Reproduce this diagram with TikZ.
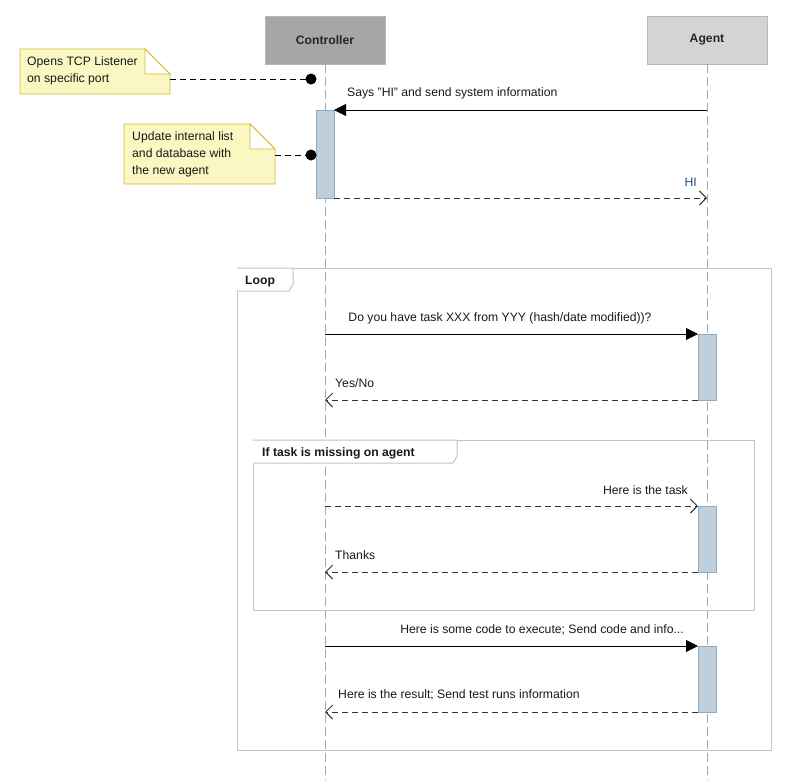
\documentclass[tikz,border=0pt]{standalone}
\usepackage{fontspec}
\setmainfont{Liberation Sans}
\usetikzlibrary{arrows.meta}
\definecolor{notefill}{HTML}{FBF7C3}
\definecolor{notedraw}{HTML}{D4B72E}
\definecolor{actfill}{HTML}{BFD0DC}
\definecolor{actdraw}{HTML}{8DAAC3}
\definecolor{lifegray}{HTML}{A8A8A8}
\definecolor{framegray}{HTML}{C4C4C4}
\definecolor{hiblue}{HTML}{1F4A8C}
\tikzset{
  x=1pt, y=-1pt,
  txt/.style={font=\fontsize{12.2}{17}\selectfont, inner sep=0pt, text=black!90},
  boldtxt/.style={txt, font=\fontsize{12.2}{17}\selectfont\bfseries},
  head/.style={draw=black!28, minimum width=120pt, minimum height=48pt, font=\fontsize{12.2}{17}\selectfont\bfseries, text=black!85},
  life/.style={draw=lifegray, dash pattern=on 9pt off 4pt, line width=0.9pt},
  act/.style={draw=actdraw, fill=actfill, line width=0.8pt},
  sync/.style={draw=black, line width=0.9pt, -{Triangle[length=12pt,width=12pt]}},
  reply/.style={draw=black!80, line width=0.9pt, dash pattern=on 6pt off 4pt, -{Straight Barb[length=7pt,width=14pt,line width=1pt]}},
  notelink/.style={draw=black, line width=1pt, dash pattern=on 6pt off 4pt},
  dot/.style={circle, fill=black, inner sep=0pt, minimum size=11pt},
  notebox/.style={draw=notedraw, fill=notefill, line width=0.9pt},
  frame/.style={draw=framegray, line width=1pt},
}
\begin{document}
\begin{tikzpicture}
\useasboundingbox (0,0) rectangle (800,780);
% heads
\node[head, fill=black!35] (ctrl) at (325,40) {Controller};
\node[head, fill=black!17] (agent) at (707,40) {Agent};
% lifelines
\coordinate (cend) at (325,780);
\coordinate (aend) at (707,780);
\draw[life] (ctrl.south) -- (cend);
\draw[life] (agent.south) -- (aend);

% frames
\draw[frame] (237,268) rectangle (771,750);
\draw[frame, fill=white] (237,268) -- (293,268) -- (293,284) -- (289,291) -- (237,291);
\node[boldtxt, anchor=west] (looplbl) at (245,282) {Loop};
\draw[frame] (253,440) rectangle (754,610);
\draw[frame, fill=white] (253,440) -- (457,440) -- (457,456) -- (453,463) -- (253,463);
\node[boldtxt, anchor=west] (iflbl) at (262,453) {If task is missing on agent};

% note 1
\draw[notebox] (20,49) -- (145,49) -- (170,74) -- (170,94) -- (20,94) -- cycle;
\draw[notedraw, line width=0.9pt, fill=white] (145,49) -- (145,74) -- (170,74) -- cycle;
\node[txt, anchor=north west, align=left] (note1) at (27,56) {Opens TCP Listener\\on specific port};
\coordinate (n1r) at (170,79);
\node[dot] (dot1) at (311,79) {};
\draw[notelink] (n1r) -- (dot1.center);

% activation controller
\draw[act] (316,110) rectangle (334,198);
\coordinate (a0top) at (334,110);
\coordinate (a0bot) at (334,198);
\coordinate (agmsg1) at (707,110);
\draw[sync] (agmsg1) -- (a0top);
\node[txt, anchor=west] (m1) at (347,93) {Says {\char34}HI{\char34} and send system information};

% note 2
\draw[notebox] (124,124) -- (250,124) -- (275,149) -- (275,184) -- (124,184) -- cycle;
\draw[notedraw, line width=0.9pt, fill=white] (250,124) -- (250,149) -- (275,149) -- cycle;
\node[txt, anchor=north west, align=left] (note2) at (132,131) {Update internal list\\and database with\\the new agent};
\coordinate (n2r) at (275,155);
\node[dot] (dot2) at (311,155) {};
\draw[notelink] (n2r) -- (dot2.center);

% HI
\coordinate (aghi) at (707,198);
\draw[reply] (a0bot) -- (aghi);
\node[txt, text=hiblue, anchor=east] (hi) at (697,182) {HI};

% loop messages
\draw[act] (698,334) rectangle (716,400);
\coordinate (c1) at (325,334);
\coordinate (a1t) at (698,334);
\draw[sync] (c1) -- (a1t);
\node[txt] (m2) at (500,318) {Do you have task XXX from YYY (hash/date modified))?};
\coordinate (a1b) at (698,400);
\coordinate (c2) at (325,400);
\draw[reply] (a1b) -- (c2);
\node[txt, anchor=west] (m3) at (335,383) {Yes/No};

% inner frame messages
\draw[act] (698,506) rectangle (716,572);
\coordinate (c3) at (325,506);
\coordinate (a2t) at (698,506);
\draw[reply] (c3) -- (a2t);
\node[txt, anchor=east] (m4) at (688,490) {Here is the task};
\coordinate (a2b) at (698,572);
\coordinate (c4) at (325,572);
\draw[reply] (a2b) -- (c4);
\node[txt, anchor=west] (m5) at (335,555) {Thanks};

% final
\draw[act] (698,646) rectangle (716,712);
\coordinate (c5) at (325,646);
\coordinate (a3t) at (698,646);
\draw[sync] (c5) -- (a3t);
\node[txt, anchor=east] (m6) at (684,630) {Here is some code to execute; Send code and info...};
\coordinate (a3b) at (698,712);
\coordinate (c6) at (325,712);
\draw[reply] (a3b) -- (c6);
\node[txt, anchor=west] (m7) at (338,695) {Here is the result; Send test runs information};
\end{tikzpicture}
\end{document}
